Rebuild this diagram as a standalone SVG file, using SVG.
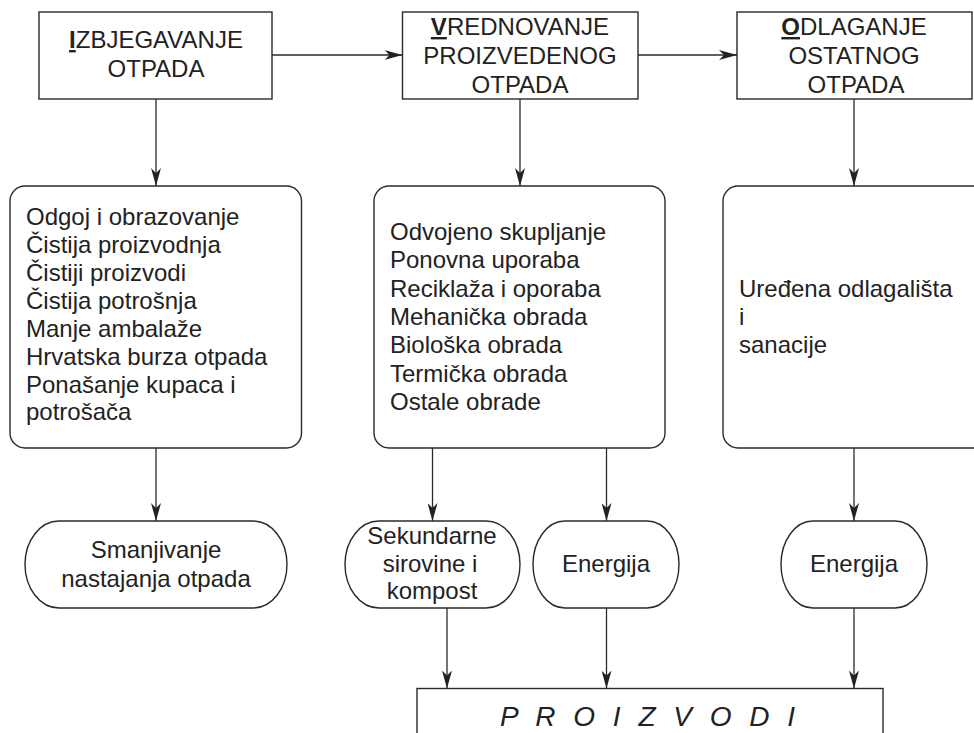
<svg xmlns="http://www.w3.org/2000/svg" width="974" height="733" viewBox="0 0 974 733">
<style>
.box{fill:#fff;stroke:#2a2a2a;stroke-width:1.4}
.t{font-family:"Liberation Sans",Arial,sans-serif;font-size:24px;fill:#222}
.c{text-anchor:middle}
.u{font-weight:bold;text-decoration:underline}
.ln{stroke:#2a2a2a;stroke-width:1.3;fill:none;marker-end:url(#ah)}
</style>
<defs>
<marker id="ah" viewBox="0 0 18 10" refX="18" refY="5" markerWidth="18" markerHeight="10" orient="auto" markerUnits="userSpaceOnUse">
<path d="M0,0 L18,5 L0,10 L5,5 z" fill="#222"/>
</marker>
</defs>
<rect width="974" height="733" fill="#fff"/>
<g id="connectors">
<path class="ln" d="M272,55 H402.5"/>
<path class="ln" d="M638,55 H737"/>
<path class="ln" d="M156,99 V186"/>
<path class="ln" d="M520,99 V186"/>
<path class="ln" d="M854,99 V186"/>
<path class="ln" d="M156,448 V521"/>
<path class="ln" d="M432.5,448 V521"/>
<path class="ln" d="M606.5,448 V521"/>
<path class="ln" d="M854,448 V521"/>
<path class="ln" d="M447,608 V688.5"/>
<path class="ln" d="M606.5,608 V688.5"/>
<path class="ln" d="M854,608 V688.5"/>
</g>
<g id="izbjegavanje">
<rect class="box" x="39" y="12" width="233" height="87"/>
<text class="t c" x="156" y="48"><tspan class="u">I</tspan>ZBJEGAVANJE</text>
<text class="t c" x="156" y="77">OTPADA</text>
</g>
<g id="vrednovanje">
<rect class="box" x="402.5" y="12" width="235.5" height="87"/>
<text class="t c" x="520" y="35"><tspan class="u">V</tspan>REDNOVANJE</text>
<text class="t c" x="520" y="64">PROIZVEDENOG</text>
<text class="t c" x="520" y="93">OTPADA</text>
</g>
<g id="odlaganje">
<rect class="box" x="737" y="12" width="235" height="87"/>
<text class="t c" x="854" y="35"><tspan class="u">O</tspan>DLAGANJE</text>
<text class="t c" x="854" y="64">OSTATNOG</text>
<text class="t c" x="856" y="93">OTPADA</text>
</g>
<g id="mjere-izbjegavanja">
<rect class="box" x="10" y="186" width="291.5" height="262" rx="15"/>
<text class="t" x="26" y="225">Odgoj i obrazovanje</text>
<text class="t" x="26" y="253">Čistija proizvodnja</text>
<text class="t" x="26" y="281">Čistiji proizvodi</text>
<text class="t" x="26" y="309">Čistija potrošnja</text>
<text class="t" x="26" y="337">Manje ambalaže</text>
<text class="t" x="26" y="365">Hrvatska burza otpada</text>
<text class="t" x="26" y="393">Ponašanje kupaca i</text>
<text class="t" x="26" y="420">potrošača</text>
</g>
<g id="mjere-vrednovanja">
<rect class="box" x="374" y="186" width="291" height="262" rx="15"/>
<text class="t" x="390" y="240">Odvojeno skupljanje</text>
<text class="t" x="390" y="268">Ponovna uporaba</text>
<text class="t" x="390" y="297">Reciklaža i oporaba</text>
<text class="t" x="390" y="325">Mehanička obrada</text>
<text class="t" x="390" y="353">Biološka obrada</text>
<text class="t" x="390" y="382">Termička obrada</text>
<text class="t" x="390" y="410">Ostale obrade</text>
</g>
<g id="mjere-odlaganja">
<rect class="box" x="723" y="186" width="280" height="262" rx="15"/>
<text class="t" x="739" y="297">Uređena odlagališta</text>
<text class="t" x="739" y="325">i</text>
<text class="t" x="739" y="353">sanacije</text>
</g>
<g id="smanjivanje">
<rect class="box" x="25" y="521" width="262" height="87" rx="34" ry="43.5"/>
<text class="t c" x="156" y="558">Smanjivanje</text>
<text class="t c" x="156" y="587">nastajanja otpada</text>
</g>
<g id="sekundarne">
<rect class="box" x="345" y="521" width="175" height="87" rx="34" ry="43.5"/>
<text class="t c" x="432" y="544">Sekundarne</text>
<text class="t c" x="430" y="572">sirovine i</text>
<text class="t c" x="432" y="599">kompost</text>
</g>
<g id="energija1">
<rect class="box" x="533" y="521" width="146" height="87" rx="32" ry="43.5"/>
<text class="t c" x="606" y="572">Energija</text>
</g>
<g id="energija2">
<rect class="box" x="781" y="521" width="146" height="87" rx="32" ry="43.5"/>
<text class="t c" x="854" y="572">Energija</text>
</g>
<g id="proizvodi">
<rect class="box" x="417" y="688.5" width="466" height="80"/>
<text class="t c" x="650" y="726" style="font-size:28px;font-style:italic;letter-spacing:5px">P R O I Z V O D I</text>
</g>
</svg>
